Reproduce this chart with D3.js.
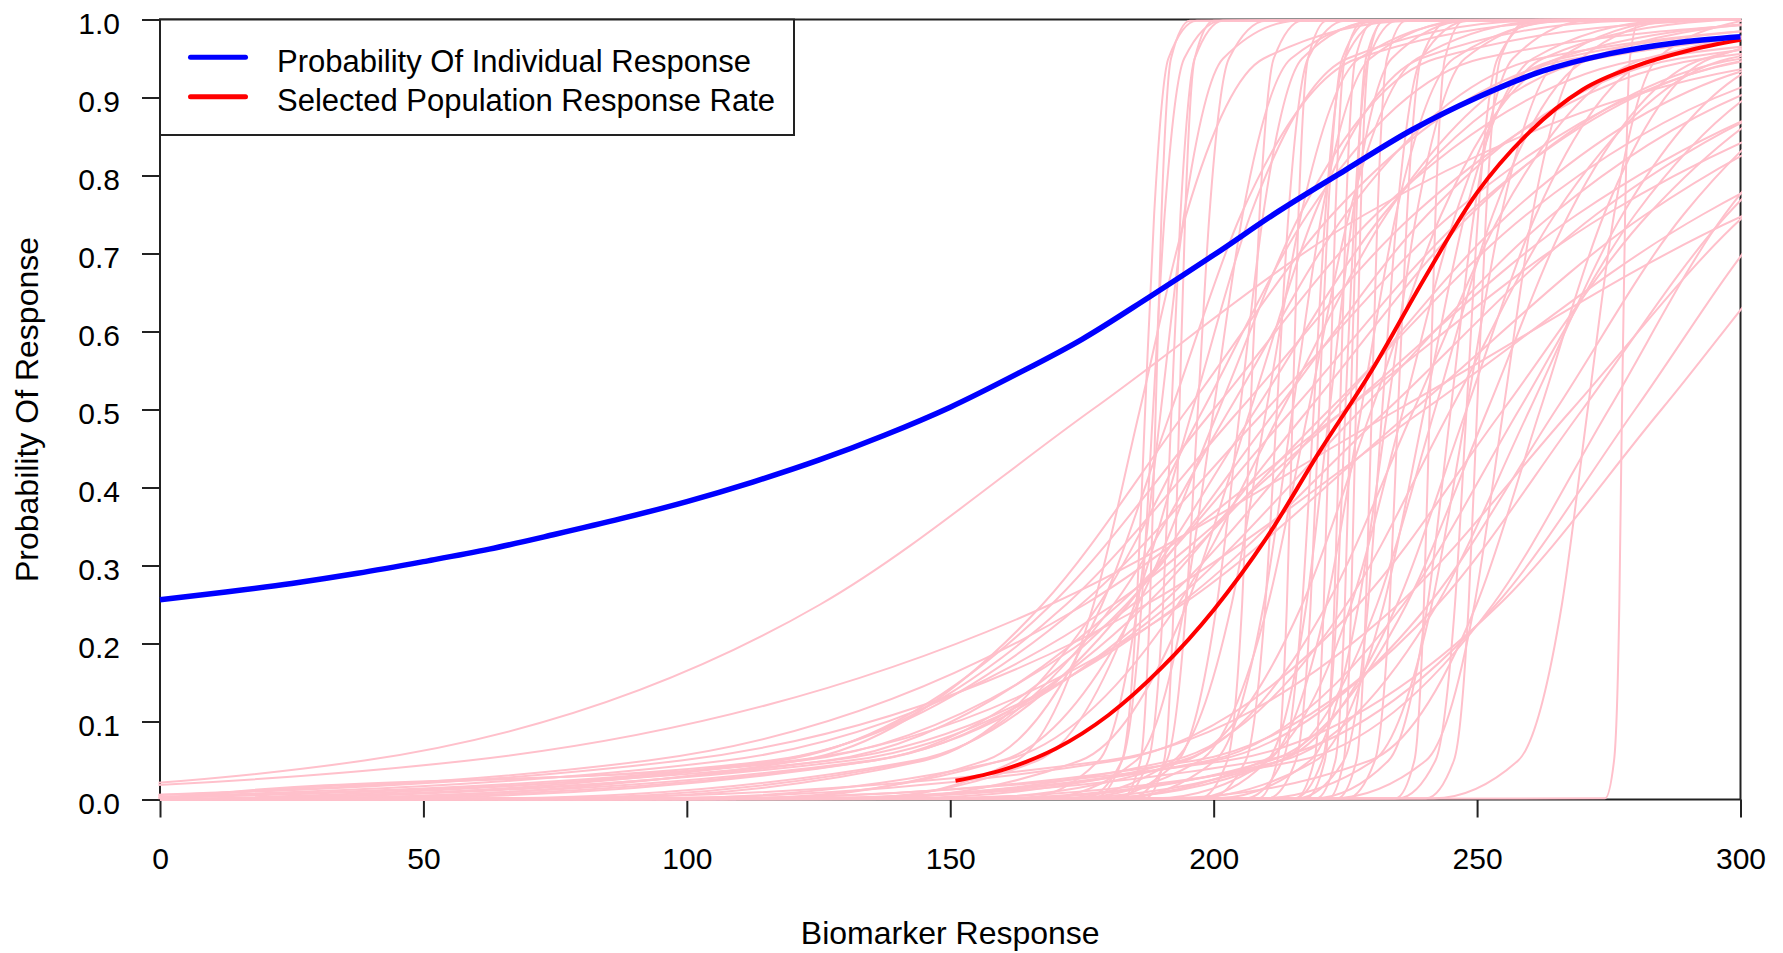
<!DOCTYPE html>
<html lang="en">
<head>
  <meta charset="utf-8">
  <title>Probability Of Response by Biomarker Response</title>
  <script src="https://d3js.org/d3.v7.min.js"></script>
  <style>
    body {
      margin: 0;
      background: #fff;
    }
    svg {
      display: block;
      font-family: "Liberation Sans", Arial, sans-serif;
    }
    .axis text {
      font-size: 30px;
      fill: #000;
    }
    .axis line {
      stroke: #222;
      stroke-width: 2;
    }
  </style>
</head>
<body>

<svg id="chart" width="1783" height="953"></svg>

<script>
  // Tick values
  const xTicks = [0, 50, 100, 150, 200, 250, 300];
  const yTicks = [0, 0.1, 0.2, 0.3, 0.4, 0.5, 0.6, 0.7, 0.8, 0.9, 1.0];

  // Legend
  const legendLabels = ["Probability Of Individual Response", "Selected Population Response Rate"];
  const legendColors = ["blue", "red"];

  // Blue curve : probability of individual response
  const blueX = [0, 12.5, 25, 37.5, 50, 62.5, 75, 87.5, 100, 112.5, 125, 137.5, 150,
                 162.5, 175, 187.5, 200, 212.5, 225, 237.5, 250, 262.5, 275, 287.5, 300];
  const blueP = [0.256, 0.266, 0.277, 0.290, 0.305, 0.321, 0.340, 0.360, 0.382, 0.407, 0.435, 0.467, 0.503,
                 0.545, 0.590, 0.643, 0.698, 0.755, 0.807, 0.858, 0.900, 0.934, 0.956, 0.970, 0.978];

  // Red curve : selected population response rate
  const redX = [151, 160, 170, 180, 190, 200, 210, 220, 230, 240, 250, 260, 270, 280, 290, 300];
  const redP = [0.024, 0.038, 0.065, 0.108, 0.168, 0.243, 0.335, 0.445, 0.550, 0.668, 0.778, 0.856, 0.910, 0.940, 0.960, 0.974];

  // Pink curves : x position where each curve crosses these probability levels
  const pinkLevels = [0.0015, 0.05, 0.25, 0.5, 0.75, 0.95, 0.9985];
  const pinkCurves = [
    [177.3, 182.6, 185.4, 187.0, 188.7, 191.4, 196.8],
    [175.5, 182.6, 186.3, 188.5, 190.7, 194.4, 201.5],
    [182.5, 186.1, 187.9, 189.0, 190.1, 191.9, 195.5],
    [182.3, 187.6, 190.4, 192.0, 193.7, 196.4, 201.8],
    [187.0, 190.6, 192.4, 193.5, 194.6, 196.4, 200.0],
    [184.0, 191.1, 194.8, 197.0, 199.2, 202.9, 210.0],
    [197.3, 202.6, 205.4, 207.0, 208.7, 211.4, 216.8],
    [199.0, 206.1, 209.8, 212.0, 214.2, 217.9, 225.0],
    [208.5, 212.1, 213.9, 215.0, 216.1, 217.9, 221.5],
    [210.3, 215.6, 218.4, 220.0, 221.7, 224.4, 229.8],
    [215.5, 219.1, 220.9, 222.0, 223.1, 224.9, 228.5],
    [217.5, 221.1, 222.9, 224.0, 225.1, 226.9, 230.5],
    [215.3, 220.6, 223.4, 225.0, 226.7, 229.4, 234.8],
    [219.5, 223.1, 224.9, 226.0, 227.1, 228.9, 232.5],
    [221.8, 224.7, 226.1, 227.0, 227.9, 229.4, 232.2],
    [225.3, 230.6, 233.4, 235.0, 236.7, 239.4, 244.8],
    [240.3, 245.6, 248.4, 250.0, 251.7, 254.4, 259.8],
    [274.3, 276.0, 277.0, 277.5, 278.1, 279.0, 280.8],
    [206.0, 213.1, 216.8, 219.0, 221.2, 224.9, 232.0],
    [223.5, 227.1, 228.9, 230.0, 231.1, 232.9, 236.5],
    [215.8, 224.7, 229.3, 232.0, 234.8, 239.4, 248.3],
    [234.5, 238.1, 239.9, 241.0, 242.1, 243.9, 247.5],
    [235.0, 242.1, 245.8, 248.0, 250.2, 253.9, 261.0],
    [164.0, 178.2, 185.6, 190.0, 194.4, 201.8, 216.0],
    [167.5, 185.3, 194.5, 200.0, 205.5, 214.7, 232.5],
    [179.0, 193.2, 200.6, 205.0, 209.4, 216.8, 231.0],
    [171.0, 192.4, 203.4, 210.0, 216.6, 227.6, 249.0],
    [182.5, 200.3, 209.5, 215.0, 220.5, 229.7, 247.5],
    [172.5, 197.4, 210.3, 218.0, 225.7, 238.6, 263.5],
    [196.0, 210.2, 217.6, 222.0, 226.4, 233.8, 248.0],
    [189.0, 210.4, 221.4, 228.0, 234.6, 245.6, 267.0],
    [200.5, 218.3, 227.5, 233.0, 238.5, 247.7, 265.5],
    [194.5, 219.4, 232.3, 240.0, 247.7, 260.6, 285.5],
    [219.0, 233.2, 240.6, 245.0, 249.4, 256.8, 271.0],
    [209.0, 230.4, 241.4, 248.0, 254.6, 265.6, 287.0],
    [222.5, 240.3, 249.5, 255.0, 260.5, 269.7, 287.5],
    [241.8, 257.8, 266.1, 271.0, 276.0, 284.2, 300.3],
    [134.0, 162.5, 177.2, 186.0, 194.8, 209.5, 238.0],
    [152.0, 194.7, 216.8, 230.0, 243.2, 265.3, 308.0],
    [140.5, 193.9, 221.5, 238.0, 254.5, 282.1, 335.5],
    [128.0, 192.1, 225.2, 245.0, 264.8, 297.9, 362.0],
    [161.0, 210.8, 236.6, 252.0, 267.4, 293.2, 343.0],
    [128.0, 199.2, 236.0, 258.0, 280.0, 316.8, 388.0],
    [122.0, 200.3, 240.8, 265.0, 289.2, 329.7, 408.0],
    [107.5, 196.5, 242.5, 270.0, 297.5, 343.5, 432.5],
    [145.0, 216.2, 253.0, 275.0, 297.0, 333.8, 405.0],
    [124.0, 209.4, 253.6, 280.0, 306.4, 350.6, 436.0],
    [103.0, 202.7, 254.2, 285.0, 315.8, 367.3, 467.0],
    [156.0, 213.0, 242.4, 260.0, 277.6, 307.0, 364.0],
    [177.0, 212.6, 231.0, 242.0, 253.0, 271.4, 307.0],
    [177.5, 209.5, 226.1, 236.0, 245.9, 262.5, 294.5],
    [170.0, 212.7, 234.8, 248.0, 261.2, 283.3, 326.0],
    [92.5, 181.5, 227.5, 255.0, 282.5, 328.5, 417.5],
    [73.0, 179.8, 235.0, 268.0, 301.0, 356.2, 463.0],
    [190.5, 229.7, 249.9, 262.0, 274.1, 294.3, 333.5],
    [32.5, 121.5, 167.5, 195.0, 222.5, 268.5, 357.5],
    [18.0, 117.7, 169.2, 200.0, 230.8, 282.3, 382.0],
    [10.0, 116.8, 172.0, 205.0, 238.0, 293.2, 400.0],
    [2.0, 115.9, 174.8, 210.0, 245.2, 304.1, 418.0],
    [20.0, 126.8, 182.0, 215.0, 248.0, 303.2, 410.0],
    [1.0, 122.0, 184.6, 222.0, 259.4, 322.0, 443.0],
    [-10.0, 107.4, 181.0, 225.0, 269.0, 342.6, 485.0],
    [65.0, 143.3, 183.8, 208.0, 232.2, 272.7, 351.0],
    [43.0, 135.6, 183.4, 212.0, 240.6, 288.4, 381.0],
    [36.0, 135.7, 187.2, 218.0, 248.8, 300.3, 400.0],
    [28.0, 134.8, 190.0, 223.0, 256.0, 311.2, 418.0],
    [13.5, 131.0, 191.7, 228.0, 264.3, 325.0, 442.5],
    [-1.0, 127.2, 193.4, 233.0, 272.6, 338.8, 467.0],
    [-5.0, 120.4, 194.0, 238.0, 282.0, 355.6, 498.0],
    [73.0, 144.2, 181.0, 203.0, 225.0, 261.8, 333.0],
    [81.0, 145.1, 178.2, 198.0, 217.8, 250.9, 315.0],
    [96.0, 160.1, 193.2, 213.0, 232.8, 265.9, 330.0],
    [-60.0, 38.8, 125.3, 177.0, 228.7, 315.2, 482.5],
    [-70.0, 58.6, 169.0, 235.0, 301.0, 411.4, 625.0],
    [114.0, 156.7, 178.8, 192.0, 205.2, 227.3, 270.0],
    [131.0, 166.6, 185.0, 196.0, 207.0, 225.4, 261.0],
    [110.0, 159.8, 185.6, 201.0, 216.4, 242.2, 292.0],
    [135.5, 174.7, 194.9, 207.0, 219.1, 239.3, 278.5],
    [-20.0, 92.7, 175.5, 225.0, 274.5, 357.3, 517.5],
    [-20.0, 98.9, 187.2, 240.0, 292.8, 381.1, 552.0]
  ];

  // Scales
  const plotLeft = 160, plotRight = 1740.5, plotTop = 19.5, plotBottom = 799.5;
  const xScale = d3.scaleLinear().domain([0, 300]).range([plotLeft, plotRight]);
  const yScale = d3.scaleLinear().domain([0, 1]).range([plotBottom, plotTop]);

  const svg = d3.select("#chart");

  svg.append("defs").append("clipPath")
          .attr("id", "plotClip")
          .append("rect")
          .attr("x", plotLeft - 1.5)
          .attr("y", plotTop - 1.5)
          .attr("width", plotRight - plotLeft + 3)
          .attr("height", plotBottom - plotTop + 3);

  // Plot box
  svg.append("rect")
          .attr("x", plotLeft)
          .attr("y", plotTop)
          .attr("width", plotRight - plotLeft)
          .attr("height", plotBottom - plotTop)
          .attr("fill", "none")
          .attr("stroke", "#222")
          .attr("stroke-width", 2);

  // Axes
  const yAxisGroup = svg.append("g")
          .attr("class", "axis")
          .attr("transform", `translate(${plotLeft},0)`)
          .call(d3.axisLeft(yScale).tickValues(yTicks).tickFormat(d3.format(".1f")).tickSize(18).tickPadding(22));
  yAxisGroup.attr("font-family", null).attr("font-size", null);
  yAxisGroup.select(".domain").remove();
  yAxisGroup.selectAll("text").attr("dy", "0.45em");

  const xAxisGroup = svg.append("g")
          .attr("class", "axis")
          .attr("transform", `translate(0,${plotBottom})`)
          .call(d3.axisBottom(xScale).tickValues(xTicks).tickFormat(d3.format("d")).tickSize(18).tickPadding(30));
  xAxisGroup.attr("font-family", null).attr("font-size", null);
  xAxisGroup.select(".domain").remove();

  // Pink curves
  const curveLine = d3.line()
          .x(d => xScale(d[0]))
          .y(d => yScale(d[1]))
          .curve(d3.curveMonotoneX);

  svg.append("g")
          .attr("clip-path", "url(#plotClip)")
          .selectAll("path")
          .data(pinkCurves)
          .join("path")
          .attr("d", c => {
            const pts = c.map((xv, i) => [xv, pinkLevels[i]]);
            if (pts[0][0] > 0) pts.unshift([0, 0]);
            if (pts[pts.length - 1][0] < 300) pts.push([300, 1]);
            return curveLine(pts);
          })
          .attr("fill", "none")
          .attr("stroke", "pink")
          .attr("stroke-width", 2);

  // Red and blue curves
  svg.append("path")
          .datum(redX.map((xv, i) => [xv, redP[i]]))
          .attr("d", curveLine)
          .attr("fill", "none")
          .attr("stroke", "red")
          .attr("stroke-width", 4);

  svg.append("path")
          .datum(blueX.map((xv, i) => [xv, blueP[i]]))
          .attr("d", curveLine)
          .attr("fill", "none")
          .attr("stroke", "blue")
          .attr("stroke-width", 5.5);

  // Axis titles
  svg.append("text")
          .attr("x", (plotLeft + plotRight) / 2)
          .attr("y", 944)
          .attr("text-anchor", "middle")
          .attr("font-size", 32)
          .text("Biomarker Response");

  svg.append("text")
          .attr("transform", `translate(38,${(plotTop + plotBottom) / 2}) rotate(-90)`)
          .attr("text-anchor", "middle")
          .attr("font-size", 32)
          .text("Probability Of Response");

  // Legend
  const legend = svg.append("g");
  legend.append("rect")
          .attr("x", plotLeft)
          .attr("y", plotTop)
          .attr("width", 634)
          .attr("height", 115.5)
          .attr("fill", "#fff")
          .attr("stroke", "#222")
          .attr("stroke-width", 2);

  const rows = legend.selectAll("g.row")
          .data(legendLabels)
          .join("g")
          .attr("class", "row")
          .attr("transform", (d, i) => `translate(0,${57.3 + i * 39.4})`);

  rows.append("line")
          .attr("x1", 190.5)
          .attr("x2", 245.5)
          .attr("stroke", (d, i) => legendColors[i])
          .attr("stroke-width", 5)
          .attr("stroke-linecap", "round");

  rows.append("text")
          .attr("x", 277)
          .attr("y", 14.5)
          .attr("font-size", 31)
          .text(d => d);
</script>
</body>
</html>
